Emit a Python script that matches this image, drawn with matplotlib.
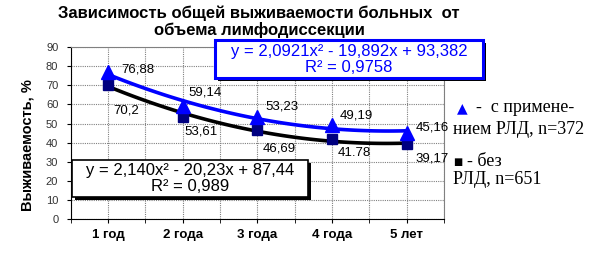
import numpy as np
import matplotlib.pyplot as plt
from matplotlib.ticker import MultipleLocator, FixedLocator
from matplotlib.patches import Rectangle

plt.rcParams['font.family'] = ['Liberation Sans', 'DejaVu Sans']

categories = ["1 год", "2 года", "3 года", "4 года", "5 лет"]
with_rld = [76.88, 59.14, 53.23, 49.19, 45.16]
without_rld = [70.2, 53.61, 46.69, 41.78, 39.17]
with_labels = ["76,88", "59,14", "53,23", "49,19", "45,16"]
without_labels = ["70,2", "53,61", "46,69", "41.78", "39,17"]
eq_with = ["y = 2,0921x² - 19,892x + 93,382", "R² = 0,9758"]
eq_without = ["y = 2,140x² - 20,23x + 87,44", "R² = 0,989"]

W, H = 600, 266
x = np.arange(1, len(categories) + 1)

fig = plt.figure(figsize=(6, 2.66), dpi=100)
ax = fig.add_axes([0.118, 0.175, 0.622, 0.649])

# trend lines (2nd order polynomial fits)
xs = np.linspace(1, 5, 100)
p_with = np.polyfit(x, with_rld, 2)
p_without = np.polyfit(x, without_rld, 2)
ax.plot(xs, np.polyval(p_without, xs), color="black", lw=2.6, zorder=3)
ax.plot(xs, np.polyval(p_with, xs), color="#0000ff", lw=2.6, zorder=3)

ax.plot(x, without_rld, ls="none", marker="s", ms=7, color="#000080", zorder=4)
ax.plot(x, with_rld, ls="none", marker="^", ms=10, color="#0000ff", zorder=5)

off_with = [(13, 2), (6, 14), (8, 11), (8, 10), (9, 5)]
off_without = [(5, -26), (2, -15), (5, -19), (6, -14), (9, -14)]
for xi, yi, lab, o in zip(x, with_rld, with_labels, off_with):
    ax.annotate(lab, (xi, yi), xytext=o, textcoords="offset pixels",
                ha="left", va="center", fontsize=9.5, zorder=6)
for xi, yi, lab, o in zip(x, without_rld, without_labels, off_without):
    ax.annotate(lab, (xi, yi), xytext=o, textcoords="offset pixels",
                ha="left", va="center", fontsize=9.5, zorder=6)

ax.set_xlim(0.5, 5.5)
ax.set_ylim(0, 90)
ax.set_xticks(x)
ax.set_xticklabels(categories, fontsize=9.5, fontweight="bold")
ax.xaxis.set_minor_locator(FixedLocator(list(x - 0.5) + [5.5]))
ax.tick_params(axis="x", which="both", length=3, direction="out", pad=4)
ax.yaxis.set_major_locator(MultipleLocator(10))
ax.tick_params(axis="y", length=3, pad=6, labelsize=8, labelcolor="#333333")
ax.grid(True, which="both", color="#808080", ls=(0, (1, 1)), lw=0.8)
for s in ["top", "right"]:
    ax.spines[s].set_color("#808080")
    ax.spines[s].set_linestyle((0, (1, 1)))
ax.set_ylabel("Выживаемость, %", fontsize=10.5, fontweight="bold")
ax.yaxis.set_label_coords(-0.097, 0.43)


# equation boxes with shadow (pixel box: left, top, right, bottom)
def eq_box(box, lines, col, lw, line_y):
    l, t, r, b = box
    fig.patches.append(Rectangle(((l + 3) / W, 1 - (b + 3) / H), (r - l) / W, (b - t) / H,
                                 transform=fig.transFigure, fc="black", ec="none", zorder=8))
    fig.patches.append(Rectangle((l / W, 1 - b / H), (r - l) / W, (b - t) / H,
                                 transform=fig.transFigure, fc="white", ec=col, lw=lw, zorder=9))
    for txt, yy in zip(lines, line_y):
        fig.text((l + r) / 2 / W, 1 - yy / H, txt, color=col, ha="center", va="center",
                 fontsize=12, zorder=10)


eq_box((215, 40, 483, 78), eq_with, "#0000ff", 2.2, (51.5, 67.5))
eq_box((72, 160, 308, 197), eq_without, "black", 1.2, (170.5, 186.5))

fig.text(259 / W, 1 - 13 / H, "Зависимость общей выживаемости больных  от",
         ha="center", va="center", fontsize=12, fontweight="bold")
fig.text(259 / W, 1 - 29.5 / H, "объема лимфодиссекции",
         ha="center", va="center", fontsize=12, fontweight="bold")

serif = ["Liberation Serif", "DejaVu Serif"]
fig.text(462 / W, 1 - 108 / H, "▲", color="#0000ff", ha="center", va="center",
         fontsize=10, family=["DejaVu Sans"])
fig.text(476 / W, 1 - 108 / H, "-  с примене-", ha="left", va="center",
         fontsize=13, family=serif)
fig.text(453 / W, 1 - 130 / H, "нием РЛД, n=372", ha="left", va="center",
         fontsize=13, family=serif)
fig.text(458 / W, 1 - 162 / H, "■", color="black", ha="center", va="center",
         fontsize=7, family=["DejaVu Sans"])
fig.text(467 / W, 1 - 162 / H, "- без", ha="left", va="center",
         fontsize=13, family=serif)
fig.text(453 / W, 1 - 179 / H, "РЛД, n=651", ha="left", va="center",
         fontsize=13, family=serif)

fig.savefig("out.png", dpi=100)
